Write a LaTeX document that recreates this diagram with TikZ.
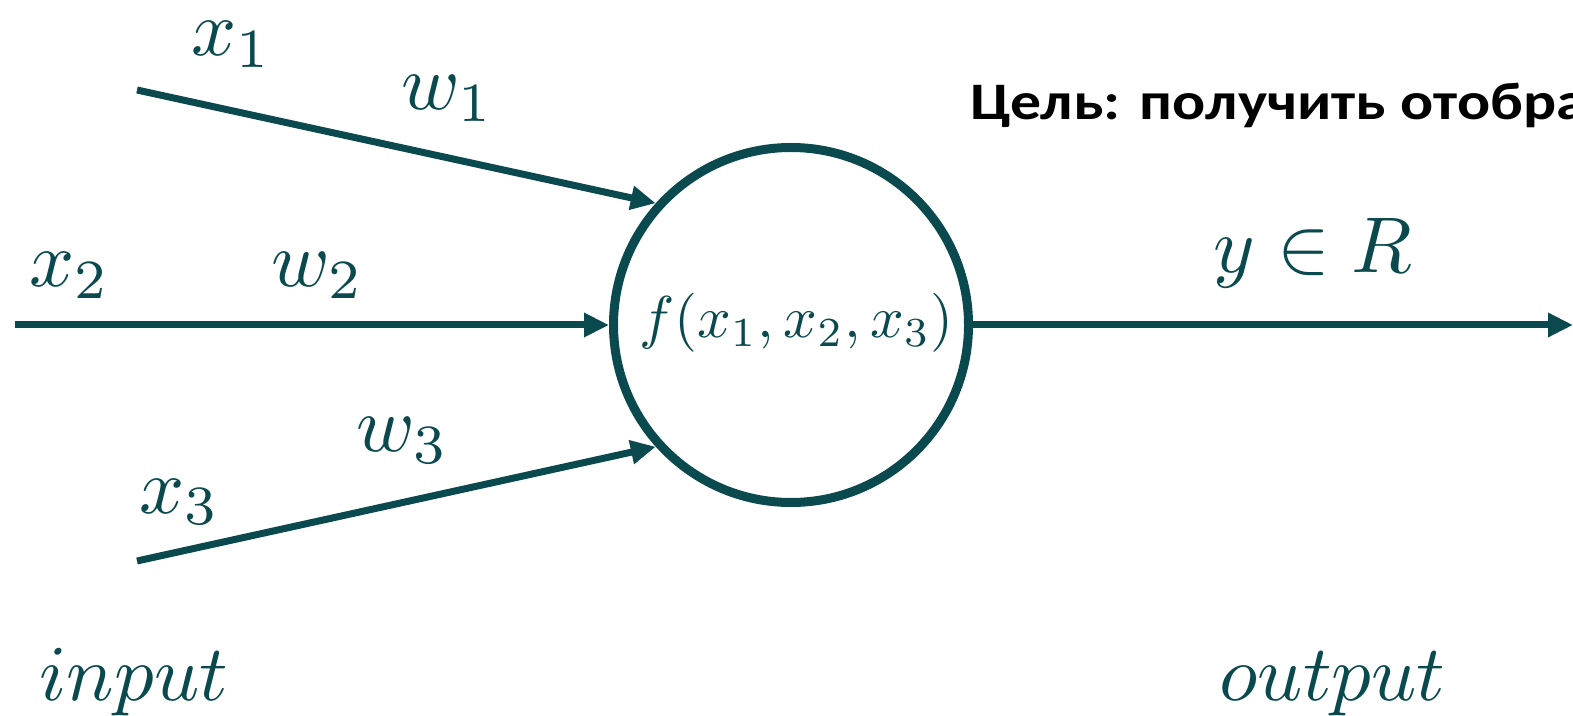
\RequirePackage{fix-cm}
\documentclass[tikz,border=0pt]{standalone}
\usepackage{fontspec}
\usepackage{amsmath, amssymb}
\newfontfamily\carlito[FakeStretch=1.17]{Carlito}
\usetikzlibrary{positioning, arrows.meta}
\definecolor{deepteal}{RGB}{10,74,78}
\tikzset{
	lbl/.append style={
		deepteal,
		inner sep=0pt,
		anchor=base west,
		scale=2.25,
		transform shape,
		font=\normalsize
	},
	neuron/.append style={
		draw=deepteal,
		circle,
		line width=0.9mm,
		minimum size=35.5mm,
		inner sep=0pt,
	},
	conn/.append style={
		draw=deepteal,
		line width=0.7mm,
		-{Triangle[length=2.5mm, width=2.3mm]}
	}
}

\begin{document}
\begin{tikzpicture}[x=0.1mm, y=-0.1mm]
\useasboundingbox (0,0) rectangle (1573,716);

\node(f)[neuron] at (791,325) {};
\node(ftext)[lbl, scale=1.68/2.25] at (638,338) {$f(x_1, x_2, x_3)$};

\coordinate(in1) at (137,90);
\coordinate(in2) at (15,325);
\coordinate(in3) at (137,561);
\coordinate(out) at (1573,325);

\draw[conn] (in1) -- (f.138);
\draw[conn] (in2) -- (f.west);
\draw[conn] (in3) -- (f.222);
\draw[conn] (f.east) -- (out);

\node(x1)[lbl] at (190,56) {$x_1$};
\node(w1)[lbl] at (400,110) {$w_1$};
\node(x2)[lbl] at (28,287) {$x_2$};
\node(w2)[lbl] at (270,287) {$w_2$};
\node(x3)[lbl] at (138,513) {$x_3$};
\node(w3)[lbl] at (355,452) {$w_3$};
\node(y)[lbl] at (1212,273) {$y \in R$};

\node(input)[lbl] at (38,700) {$input$};
\node(output)[lbl] at (1218,700) {$output$};

\node(goal)[inner sep=0pt, anchor=base west, font={\carlito\bfseries\fontsize{15}{18}\selectfont}] at (970,120) {Цель: получить отобра};

\end{tikzpicture}
\end{document}
